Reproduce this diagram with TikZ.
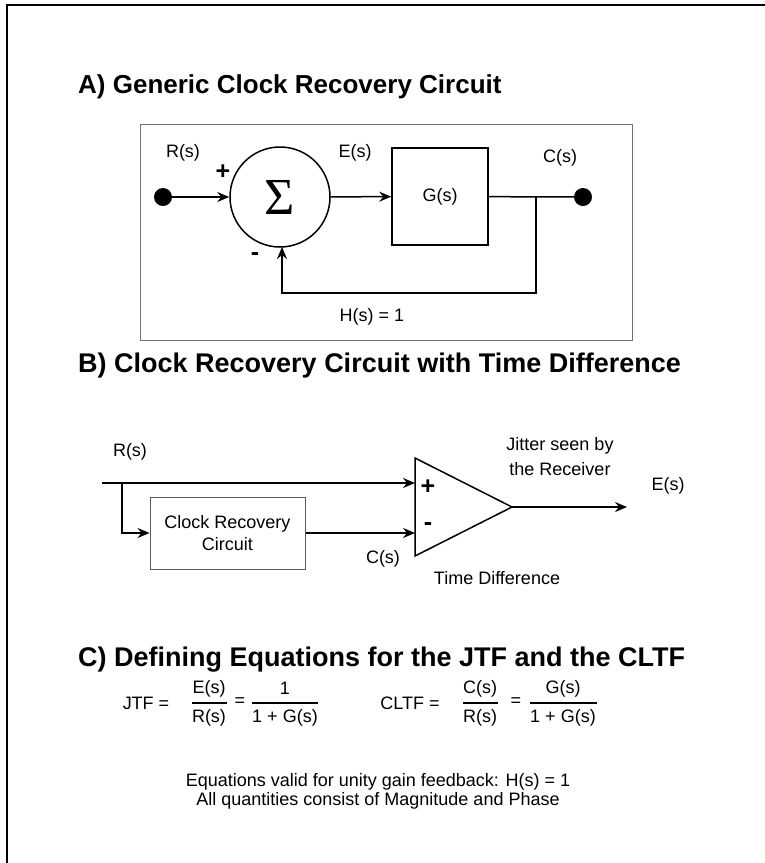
\documentclass[tikz,border=0pt]{standalone}
\usepackage{fontspec}
\setmainfont{Liberation Sans}
\newfontfamily\sigfont{Liberation Serif}
\usetikzlibrary{arrows.meta}
\begin{document}
\begin{tikzpicture}[x=1pt,y=-1pt,
  lbl/.style={font=\fontsize{18}{23}\selectfont, inner sep=0pt},
  ttl/.style={font=\fontsize{26}{30}\selectfont\bfseries, inner sep=0pt, anchor=west},
  ttlb/.style={font=\fontsize{27}{30}\selectfont\bfseries, inner sep=0pt, anchor=west},
  sgn/.style={font=\fontsize{25}{28}\selectfont\bfseries, inner sep=0pt},
  wire/.style={line width=1.5pt},
  arr/.style={wire, -{Stealth[length=12pt,width=10pt,inset=4pt]}},
  dotn/.style={circle, fill=black, minimum size=18pt, inner sep=0pt},
  sumc/.style={circle, draw, line width=1.5pt, minimum size=100pt, inner sep=0pt},
  blk/.style={draw, line width=1.5pt, minimum width=96pt, minimum height=97pt, inner sep=0pt, font=\fontsize{18}{22}\selectfont},
  crcbox/.style={draw=black!65, line width=1pt, minimum width=155pt, minimum height=72pt, inner sep=0pt, align=center, font=\fontsize{18}{22}\selectfont},
  fbar/.style={line width=1.2pt}
]
\path[use as bounding box] (0,0) rectangle (764,863);
% outer frame
\draw[line width=2pt] (7,864) -- (7,5) -- (765,5);

% ---------- A ----------
\node[ttl] (tA) at (78,87) {A) Generic Clock Recovery Circuit};
\draw[black!55, line width=1pt] (140,124) rectangle (632,340);
\node[dotn] (in) at (163,197) {};
\node[sumc] (sum) at (280,197) {\fontsize{52}{52}\selectfont\sigfont Σ};
\node[blk] (G) at (440,196.5) {G(s)};
\node[dotn] (out) at (583,197) {};
\coordinate (j) at (536,197);
\coordinate (jb) at (536,293);
\coordinate (fb) at (282,293);
\coordinate (fbt) at (282,247);
\draw[arr] (in) -- (sum);
\draw[arr] (sum) -- (G);
\draw[wire] (G) -- (out);
\draw[arr] (j) -- (jb) -- (fb) -- (fbt);
\node[lbl] (lR) at (183,153) {R(s)};
\node[sgn] (lp) at (223,172) {+};
\node[sgn] (lm) at (255,257) {-};
\node[lbl] (lE) at (355,153) {E(s)};
\node[lbl] (lC) at (560,158) {C(s)};
\node[lbl] (lH) at (372,317) {H(s) = 1};

% ---------- B ----------
\node[ttlb] (tB) at (78,366) {B) Clock Recovery Circuit with Time Difference};
\coordinate (ta) at (415,458);
\coordinate (tb) at (415,556);
\coordinate (tc) at (512,507);
\draw[wire, line join=miter] (ta) -- (tc) -- (tb) -- cycle;
\coordinate (tp) at (415,483);
\coordinate (tm) at (415,533);
\coordinate (rin) at (102,483);
\coordinate (br) at (122,483);
\node[crcbox] (crc) at (227.5,533) {Clock Recovery\\Circuit};
\coordinate (eo) at (627,507);
\draw[arr] (rin) -- (tp);
\draw[arr] (br) |- (crc.west);
\draw[arr] (crc.east) -- (tm);
\draw[arr] (tc) -- (eo);
\node[lbl] (bR) at (130,452) {R(s)};
\node[sgn] (bp) at (428,487) {+};
\node[sgn] (bm) at (428,527) {-};
\node[lbl, align=center, font=\fontsize{18}{25}\selectfont] (bJ) at (560,457) {Jitter seen by\\the Receiver};
\node[lbl] (bE) at (668,486) {E(s)};
\node[lbl] (bC) at (383,559) {C(s)};
\node[lbl] (bT) at (497,578) {Time Difference};

% ---------- C ----------
\node[ttlb] (tC) at (78,660) {C) Defining Equations for the JTF and the CLTF};
\node[lbl] (jtf) at (146,703) {JTF =};
\node[lbl] (n1) at (209,689) {E(s)};
\node[lbl] (d1) at (209,718) {R(s)};
\coordinate (b1a) at (192,703); \coordinate (b1b) at (227,703);
\draw[fbar] (b1a) -- (b1b);
\node[lbl] (eq1) at (240,702) {=};
\node[lbl] (n2) at (285,688) {1};
\node[lbl] (d2) at (285,718) {1 + G(s)};
\coordinate (b2a) at (252,703); \coordinate (b2b) at (318,703);
\draw[fbar] (b2a) -- (b2b);
\node[lbl] (cltf) at (410,703) {CLTF =};
\node[lbl] (n3) at (480,689) {C(s)};
\node[lbl] (d3) at (480,718) {R(s)};
\coordinate (b3a) at (463,703); \coordinate (b3b) at (498,703);
\draw[fbar] (b3a) -- (b3b);
\node[lbl] (eq2) at (516,702) {=};
\node[lbl] (n4) at (563,689) {G(s)};
\node[lbl] (d4) at (563,718) {1 + G(s)};
\coordinate (b4a) at (530,703); \coordinate (b4b) at (597,703);
\draw[fbar] (b4a) -- (b4b);
\node[lbl] (nt1) at (378,782) {Equations valid for unity gain feedback: H(s) = 1};
\node[lbl] (nt2) at (378,801) {All quantities consist of Magnitude and Phase};
\end{tikzpicture}
\end{document}
